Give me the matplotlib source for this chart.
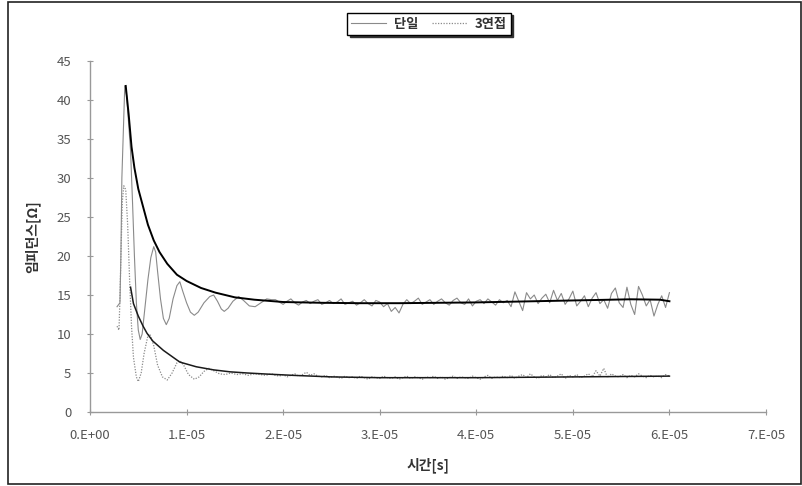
import numpy as np
import matplotlib
matplotlib.use("Agg")
import matplotlib.pyplot as plt  # noqa: E402
from matplotlib.patches import Rectangle  # noqa: E402

plt.rcParams['font.family'] = ['Noto Sans CJK KR', 'DejaVu Sans']

# ---------------------------------------------------------------------
# 측정 데이터 (시간 단위: 1e-5 s, 임피던스 단위: Ω)
# ---------------------------------------------------------------------
# 단일 - 초기 과도 구간
t_single_head = [0.28, 0.31, 0.32, 0.33, 0.345, 0.36, 0.38, 0.40, 0.42, 0.44,
                 0.46, 0.48, 0.50, 0.52, 0.54, 0.57, 0.60, 0.63, 0.66, 0.68,
                 0.70, 0.73, 0.76, 0.79, 0.82, 0.86, 0.90, 0.93, 0.96, 1.00,
                 1.04, 1.08, 1.12, 1.18, 1.24, 1.28, 1.32, 1.36, 1.39, 1.43,
                 1.48, 1.54, 1.59, 1.65, 1.71, 1.77, 1.83, 1.88]
z_single_head = [13.5, 14.0, 20.0, 30.0, 36.0, 41.8, 40.5, 37.0, 33.5, 27.0,
                 20.0, 14.0, 10.5, 9.3, 10.0, 13.5, 17.0, 19.8, 21.2, 20.5,
                 18.0, 14.5, 12.0, 11.2, 12.0, 14.5, 16.2, 16.7, 15.5, 14.0,
                 12.8, 12.4, 12.8, 14.0, 14.8, 15.0, 14.2, 13.2, 12.9, 13.3,
                 14.2, 14.8, 14.3, 13.6, 13.5, 14.0, 14.5, 14.4]

# 3연접 - 초기 과도 구간
t_triple_head = [0.28, 0.30, 0.31, 0.32, 0.335, 0.35, 0.37, 0.39, 0.41, 0.43,
                 0.45, 0.48, 0.50, 0.53, 0.56, 0.60, 0.62, 0.66, 0.70, 0.75,
                 0.80, 0.85, 0.90, 0.93, 0.97, 1.02, 1.08, 1.13, 1.18, 1.23,
                 1.28, 1.34, 1.40, 1.46, 1.52, 1.58, 1.64, 1.70, 1.76, 1.82,
                 1.88]
z_triple_head = [11.0, 10.5, 14.5, 20.0, 27.0, 29.0, 28.5, 24.0, 17.0, 11.0,
                 7.0, 4.5, 3.9, 5.0, 7.5, 9.8, 10.0, 8.5, 6.0, 4.5,
                 4.1, 5.0, 6.3, 6.6, 6.0, 4.8, 4.2, 4.5, 5.2, 5.6,
                 5.3, 4.9, 4.8, 5.0, 4.8, 4.9, 4.7, 4.9, 4.8, 4.7,
                 4.9]

# 정상 구간: 1.92 ~ 6.00 (0.04 간격 샘플)
t_tail_start, t_tail_step = 1.92, 0.04
z_single_tail = [
    14.4, 14.1, 13.8, 14.2, 14.5, 14.0, 13.7, 14.1, 14.3, 13.9,
    14.2, 14.4, 13.8, 14.0, 14.3, 13.9, 14.1, 14.5, 13.8, 14.0,
    14.2, 13.7, 14.0, 14.4, 13.9, 13.6, 14.3, 14.1, 13.5, 13.9,
    12.9, 13.4, 12.7, 13.8, 14.4, 13.9, 14.2, 14.6, 13.8, 14.1,
    14.4, 13.8, 14.2, 14.5, 14.0, 13.7, 14.3, 14.6, 14.0, 13.8,
    14.5, 13.6, 14.2, 14.4, 13.9, 14.5, 14.1, 13.7, 14.4, 14.0,
    14.3, 13.5, 15.4, 14.2, 13.0, 15.3, 14.5, 15.0, 13.9, 14.6,
    15.1, 14.0, 15.6, 14.3, 15.2, 13.8, 14.5, 15.5, 13.6, 14.2,
    14.9, 13.5, 14.6, 15.3, 13.9, 14.4, 13.3, 15.2, 15.9, 14.0,
    13.4, 16.0, 13.8, 12.5, 16.1, 15.0, 13.6, 14.4, 12.3, 13.8,
    14.9, 13.4, 15.3]
z_triple_tail = [
    4.7, 4.6, 4.8, 4.5, 4.7, 4.9, 4.6, 4.8, 5.1, 4.7,
    4.9, 4.6, 4.5, 4.7, 4.4, 4.6, 4.5, 4.3, 4.6, 4.4,
    4.5, 4.3, 4.6, 4.4, 4.2, 4.5, 4.4, 4.3, 4.6, 4.4,
    4.3, 4.5, 4.2, 4.4, 4.6, 4.3, 4.5, 4.4, 4.2, 4.5,
    4.4, 4.6, 4.3, 4.5, 4.2, 4.4, 4.6, 4.3, 4.5, 4.4,
    4.3, 4.6, 4.4, 4.2, 4.5, 4.7, 4.3, 4.5, 4.4, 4.6,
    4.4, 4.7, 4.3, 4.6, 4.8, 4.4, 4.9, 4.5, 4.3, 4.7,
    4.5, 4.8, 4.4, 4.6, 4.9, 4.3, 4.7, 4.5, 4.8, 4.4,
    4.6, 4.9, 4.5, 5.3, 4.6, 5.6, 4.4, 4.9, 4.6, 4.5,
    4.8, 4.4, 4.7, 4.5, 4.9, 4.6, 4.4, 4.7, 4.5, 4.6,
    4.4, 4.8, 4.6]

# 평활 추세선
t_single_fit = [0.37, 0.40, 0.43, 0.46, 0.50, 0.55, 0.60, 0.66, 0.72, 0.80,
                0.90, 1.00, 1.15, 1.30, 1.50, 1.70, 2.00, 2.40, 2.80, 3.20,
                3.60, 4.00, 4.40, 4.80, 5.20, 5.60, 5.90, 6.00]
z_single_fit = [41.8, 38.2, 34.0, 31.3, 28.6, 26.3, 24.0, 22.0, 20.5, 19.0,
                17.6, 16.8, 15.9, 15.3, 14.7, 14.4, 14.1, 14.0, 13.95, 13.95,
                14.0, 14.05, 14.15, 14.25, 14.35, 14.45, 14.4, 14.2]
t_triple_fit = [0.42, 0.45, 0.50, 0.55, 0.59, 0.65, 0.76, 0.93, 1.10, 1.28,
                1.45, 1.63, 1.85, 2.10, 2.50, 3.00, 3.50, 4.00, 4.50, 5.00,
                5.50, 6.00]
z_triple_fit = [16.0, 13.9, 12.3, 11.0, 10.1, 9.1, 7.9, 6.4, 5.8, 5.4,
                5.15, 5.0, 4.85, 4.7, 4.5, 4.4, 4.4, 4.4, 4.45, 4.5,
                4.55, 4.6]

x_ticks = [0, 1, 2, 3, 4, 5, 6, 7]
x_tick_labels = ["0.E+00", "1.E-05", "2.E-05", "3.E-05", "4.E-05",
                 "5.E-05", "6.E-05", "7.E-05"]
y_ticks = [0, 5, 10, 15, 20, 25, 30, 35, 40, 45]

# ---------------------------------------------------------------------
t_tail = t_tail_start + t_tail_step * np.arange(len(z_single_tail))
t_single = np.concatenate([t_single_head, t_tail])
z_single = np.concatenate([z_single_head, z_single_tail])
t_triple = np.concatenate([t_triple_head, t_tail])
z_triple = np.concatenate([z_triple_head, z_triple_tail])

fig = plt.figure(figsize=(8.03, 4.86), dpi=100)
ax = fig.add_axes([90 / 803, 1 - 412 / 486, 676 / 803, 351 / 486])

h1, = ax.plot(t_single, z_single, color="#8a8a8a", lw=0.8, label="단일")
h2, = ax.plot(t_triple, z_triple, color="#8a8a8a", lw=0.9, ls=(0, (1, 1.2)),
              label="3연접")
ax.plot(t_single_fit, z_single_fit, color="black", lw=1.4)
ax.plot(t_triple_fit, z_triple_fit, color="#1a1a1a", lw=1.1)

ax.set_xlim(0, 7)
ax.set_ylim(0, 45)
ax.set_xticks(x_ticks)
ax.set_xticklabels(x_tick_labels)
ax.set_yticks(y_ticks)
ax.tick_params(direction="inout", length=5, width=0.8, colors="#999999",
               labelcolor="#555555", labelsize=9.5)
ax.tick_params(axis="x", pad=10)
ax.tick_params(axis="y", pad=11)
for side in ("top", "right"):
    ax.spines[side].set_visible(False)
for side in ("left", "bottom"):
    ax.spines[side].set_color("#999999")
    ax.spines[side].set_linewidth(1.0)

ax.set_xlabel("시간[s]", fontsize=10, fontweight="bold", color="#333333",
              labelpad=11)
ax.set_ylabel("임피던스[Ω]", fontsize=10, fontweight="bold", color="#333333",
              labelpad=12)

leg = fig.legend(handles=[h1, h2], loc="upper center", ncol=2,
                 bbox_to_anchor=(429 / 803, 1 - 6 / 486),
                 prop={"size": 9.5, "weight": "bold"},
                 frameon=True, fancybox=False,
                 shadow={"ox": 1.5, "oy": -1.5, "color": "#333333", "alpha": 1},
                 handlelength=2.6, columnspacing=1.1, borderpad=0.3,
                 handletextpad=0.6)
leg.get_frame().set_edgecolor("black")
leg.get_frame().set_linewidth(1.0)
for txt in leg.get_texts():
    txt.set_color("#333333")

# 차트 영역 테두리
fig.patches.append(Rectangle((8 / 803, 2 / 486), 793 / 803, 482 / 486,
                             transform=fig.transFigure, fill=False,
                             edgecolor="#222222", lw=1.2))

fig.savefig("out.png", dpi=100)
